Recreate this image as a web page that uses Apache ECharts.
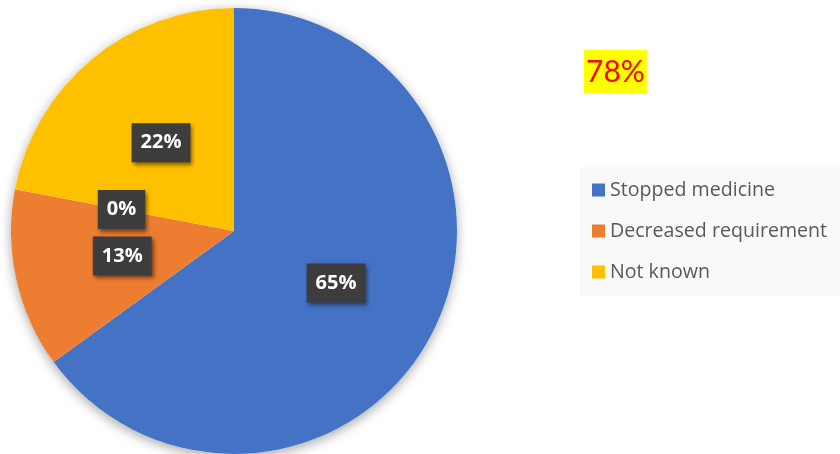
<!DOCTYPE html>
<html>
<head>
<meta charset="utf-8">
<script src="https://cdn.jsdelivr.net/npm/echarts@6/dist/echarts.min.js"></script>
<style>
  html, body { margin: 0; padding: 0; background: #fff; }
  #chart { width: 840px; height: 454px; }
</style>
</head>
<body>
<div id="chart"></div>
<script>
// Outcome categories (the unnamed entry is an empty 0% group)
const categories = ['Stopped medicine', 'Decreased requirement', '', 'Not known'];
const shares = [65, 13, 0, 22];
const sliceColors = ['#4472C4', '#ED7D31', '#A5A5A5', '#FFC000'];
const legendNames = ['Stopped medicine', 'Decreased requirement', 'Not known'];
const headline = '78%';

const chart = echarts.init(document.getElementById('chart'));

const pieData = categories.map((name, i) => ({
  name: name,
  value: shares[i],
  itemStyle: { color: sliceColors[i] }
}));

chart.setOption({
  animation: false,
  title: {
    text: headline,
    left: 584,
    top: 50,
    padding: [7, 2, 6, 2],
    backgroundColor: '#FFFF00',
    textStyle: {
      color: '#FF0000',
      fontFamily: 'Lato',
      fontSize: 30,
      fontWeight: 'normal'
    }
  },
  legend: {
    data: legendNames,
    orient: 'vertical',
    left: 580,
    top: 167,
    padding: [13, 14, 14, 12],
    itemGap: 21,
    itemWidth: 13,
    itemHeight: 13,
    icon: 'rect',
    backgroundColor: '#F9F9F9',
    textStyle: {
      color: '#595959',
      fontFamily: 'Open Sans',
      fontSize: 19.6
    }
  },
  series: [
    {
      // soft drop shadow under the whole disc
      type: 'pie',
      silent: true,
      center: [234, 231],
      radius: 223,
      label: { show: false },
      labelLine: { show: false },
      itemStyle: {
        color: '#ffffff',
        shadowBlur: 12,
        shadowOffsetY: 3,
        shadowColor: 'rgba(0,0,0,0.35)'
      },
      data: [{ name: 'base', value: 1 }]
    },
    {
      type: 'pie',
      center: [234, 231],
      radius: 223,
      startAngle: 90,
      clockwise: true,
      avoidLabelOverlap: false,
      data: pieData,
      label: {
        show: true,
        position: 'inside',
        formatter: p => Math.round(p.percent) + '%',
        color: '#ffffff',
        fontFamily: 'Open Sans',
        fontWeight: 'bold',
        fontSize: 20,
        backgroundColor: '#3D3D3D',
        padding: [10, 9, 9, 9],
        shadowColor: 'rgba(0,0,0,0.5)',
        shadowBlur: 4,
        shadowOffsetX: 2,
        shadowOffsetY: 3
      },
      labelLine: { show: false },
      emphasis: { disabled: true }
    }
  ]
});
</script>
</body>
</html>
